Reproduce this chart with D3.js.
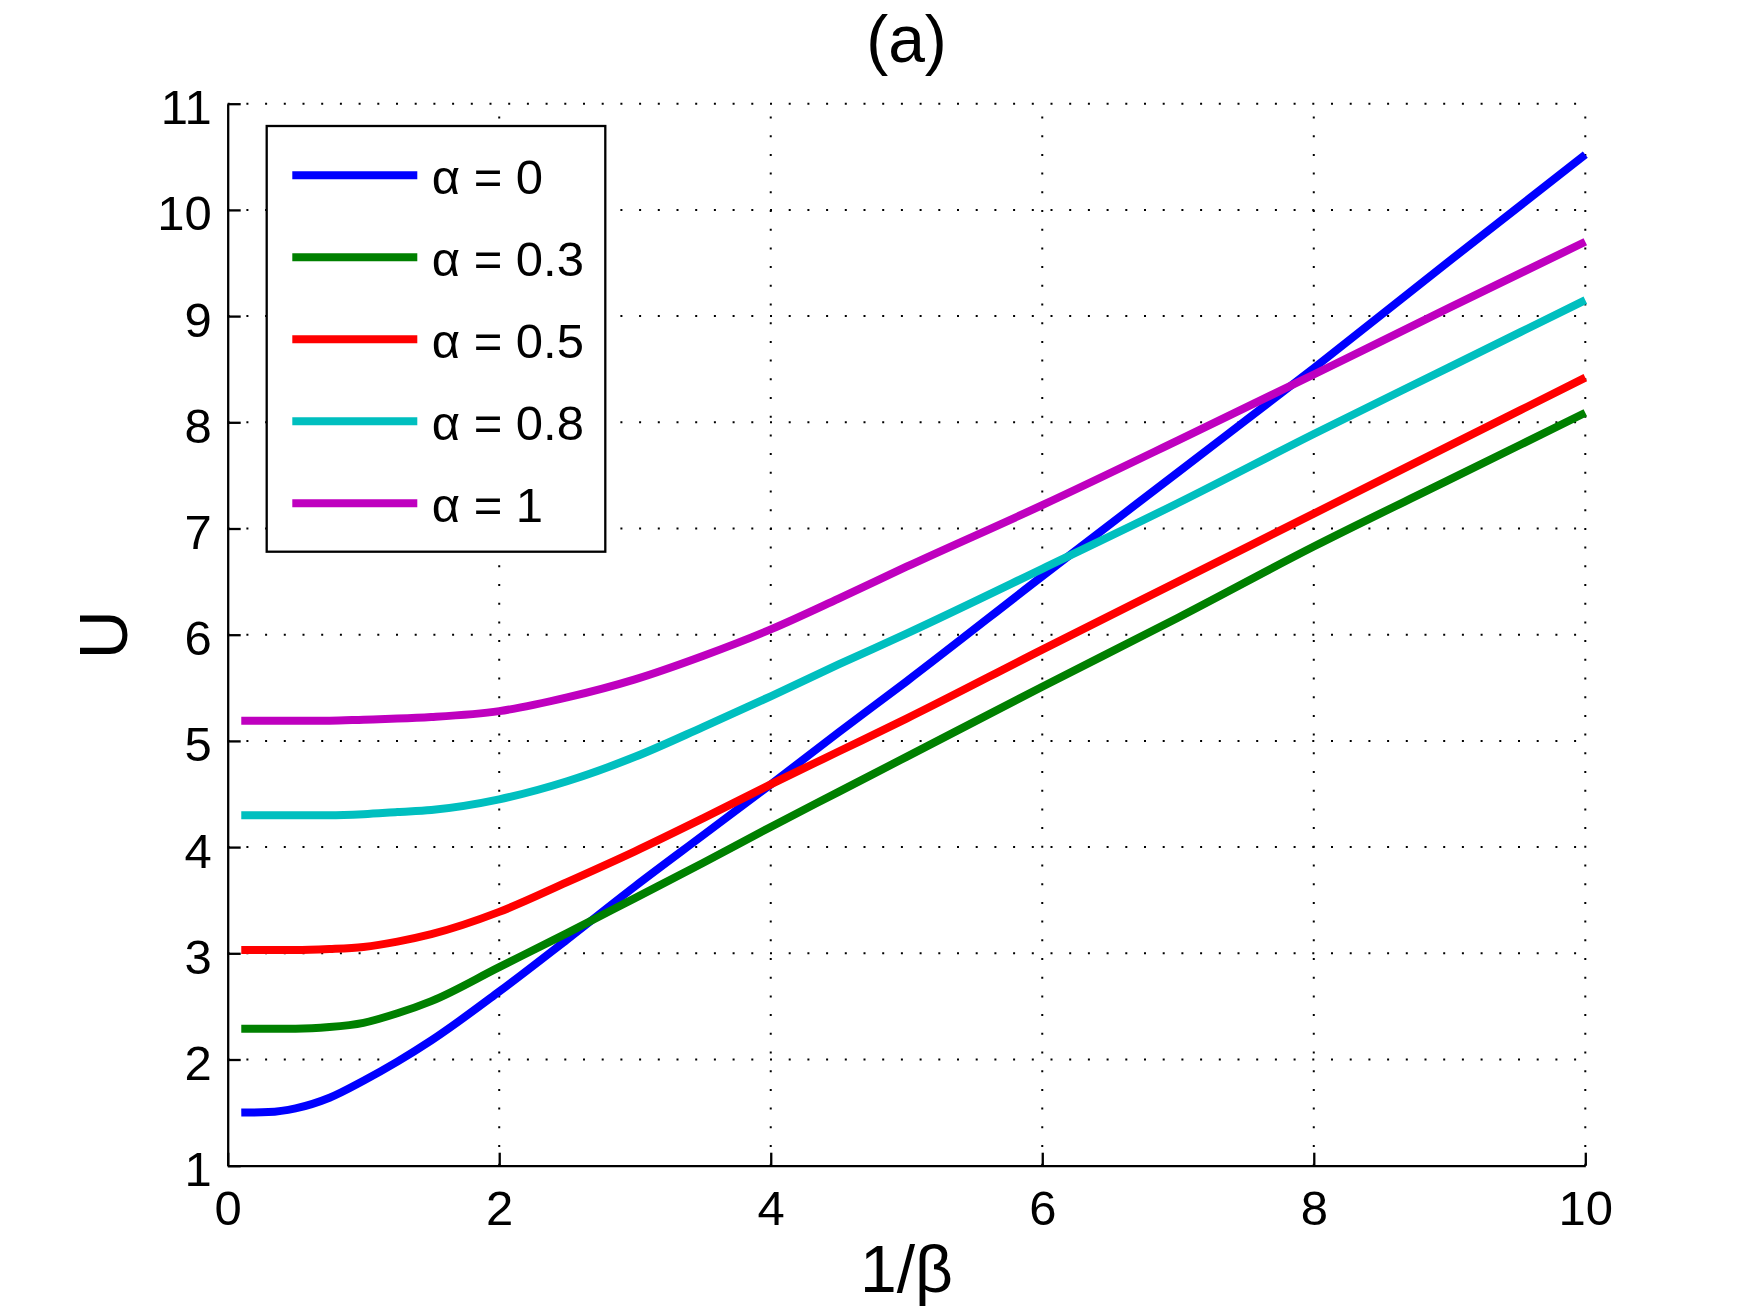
<!DOCTYPE html>
<html>
<head>
<meta charset="utf-8">
<script src="https://cdn.jsdelivr.net/npm/d3@7"></script>
<style>
  body { margin: 0; background: #fff; }
  text { font-family: "Liberation Sans", Arial, Helvetica, sans-serif; fill: #000; }
</style>
</head>
<body>
<div id="chart"></div>
<script>
// values
const invBeta = [0.1, 0.3, 0.5, 0.75, 1, 1.25, 1.5, 2, 2.5, 3, 3.5, 4, 4.5, 5, 6, 7, 8, 9, 10];
const uAlpha0   = [1.50, 1.505, 1.54, 1.64, 1.80, 1.98, 2.18, 2.64, 3.13, 3.63, 4.11, 4.59, 5.08, 5.56, 6.55, 7.53, 8.51, 9.52, 10.52];
const uAlpha03  = [2.29, 2.29, 2.29, 2.305, 2.345, 2.435, 2.55, 2.87, 3.19, 3.52, 3.85, 4.19, 4.52, 4.85, 5.51, 6.16, 6.83, 7.46, 8.09];
const uAlpha05  = [3.03, 3.03, 3.03, 3.04, 3.06, 3.11, 3.18, 3.39, 3.67, 3.96, 4.27, 4.59, 4.90, 5.21, 5.86, 6.50, 7.14, 7.78, 8.42];
const uAlpha08  = [4.30, 4.30, 4.30, 4.30, 4.31, 4.33, 4.35, 4.45, 4.62, 4.85, 5.13, 5.42, 5.72, 6.01, 6.62, 7.24, 7.89, 8.52, 9.15];
const uAlpha1   = [5.19, 5.19, 5.19, 5.19, 5.20, 5.21, 5.225, 5.28, 5.41, 5.58, 5.80, 6.05, 6.34, 6.64, 7.22, 7.83, 8.45, 9.08, 9.70];

const seriesNames = ["α = 0", "α = 0.3", "α = 0.5", "α = 0.8", "α = 1"];
const seriesValues = [uAlpha0, uAlpha03, uAlpha05, uAlpha08, uAlpha1];
const colors = ["#0000ff", "#008000", "#ff0000", "#00bfbf", "#bf00bf"];

const xTicks = [0, 2, 4, 6, 8, 10];
const yTicks = [1, 2, 3, 4, 5, 6, 7, 8, 9, 10, 11];

const width = 1750, height = 1313;
const margin = { top: 103.7, bottom: 147.3, left: 227.7, right: 164.7 };

const svg = d3.select("#chart").append("svg")
  .attr("width", width).attr("height", height)
  .style("background", "#fff");

const x = d3.scaleLinear().domain([0, 10]).range([margin.left, width - margin.right]);
const y = d3.scaleLinear().domain([1, 11]).range([height - margin.bottom, margin.top]);

// dotted grid
const grid = svg.append("g").attr("stroke", "#000").attr("stroke-width", 2).attr("stroke-dasharray", "2,16.7");
grid.selectAll(".gx").data(xTicks.slice(1)).enter().append("line")
  .attr("x1", d => x(d)).attr("x2", d => x(d))
  .attr("y1", y(1)).attr("y2", y(11));
grid.selectAll(".gy").data(yTicks.slice(1)).enter().append("line")
  .attr("x1", x(0)).attr("x2", x(10))
  .attr("y1", d => y(d)).attr("y2", d => y(d));

// curves
const line = d3.line()
  .x((d, i) => x(invBeta[i]))
  .y(d => y(d))
  .curve(d3.curveMonotoneX);

svg.selectAll(".curve").data(seriesValues).enter().append("path")
  .attr("d", d => line(d))
  .attr("fill", "none")
  .attr("stroke", (d, i) => colors[i])
  .attr("stroke-width", 8);

// axes (ticks point inward)
const xAxis = svg.append("g")
  .attr("transform", `translate(0,${y(1)})`)
  .call(d3.axisBottom(x).tickValues(xTicks).tickSize(-13).tickSizeOuter(0).tickPadding(24.5));
const yAxis = svg.append("g")
  .attr("transform", `translate(${x(0)},0)`)
  .call(d3.axisLeft(y).tickValues(yTicks).tickSize(-13).tickSizeOuter(0).tickPadding(16));

[xAxis, yAxis].forEach(a => {
  a.select(".domain").attr("stroke", "#000").attr("stroke-width", 2.3);
  a.selectAll(".tick line").attr("stroke", "#000").attr("stroke-width", 2.3);
  a.selectAll(".tick text").style("font-size", "49px").attr("font-family", null);
});
yAxis.selectAll(".tick text").attr("dy", "0.41em");

// title and labels
svg.append("text").attr("x", (x(0) + x(10)) / 2).attr("y", 62)
  .attr("text-anchor", "middle").style("font-size", "66px").text("(a)");
svg.append("text").attr("x", (x(0) + x(10)) / 2).attr("y", 1291.7)
  .attr("text-anchor", "middle").style("font-size", "66px").text("1/β");
svg.append("text")
  .attr("transform", `translate(126.7,${(y(1) + y(11)) / 2}) rotate(-90)`)
  .attr("text-anchor", "middle").style("font-size", "68px").text("U");

// legend
const legend = svg.append("g");
legend.append("rect")
  .attr("x", 266.7).attr("y", 126).attr("width", 338.6).attr("height", 425.7)
  .attr("fill", "#fff").attr("stroke", "#000").attr("stroke-width", 2.3);
const items = legend.selectAll(".item").data(seriesNames).enter().append("g")
  .attr("transform", (d, i) => `translate(0,${175.3 + i * 82})`);
items.append("line")
  .attr("x1", 292.3).attr("x2", 417.3)
  .attr("stroke", (d, i) => colors[i]).attr("stroke-width", 8);
items.append("text")
  .attr("x", 431.7).attr("y", 18.7)
  .style("font-size", "49px")
  .text(d => d);
</script>
</body>
</html>
